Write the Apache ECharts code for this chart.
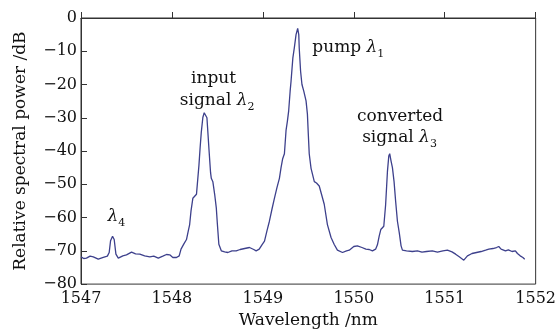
<!DOCTYPE html>
<html>
<head>
<meta charset="utf-8">
<script src="https://cdn.jsdelivr.net/npm/echarts@6/dist/echarts.min.js"></script>
<style>
  html, body { margin: 0; padding: 0; background: #fff; }
  #chart { width: 559px; height: 334px; }
</style>
</head>
<body>
<div id="chart"></div>
<script>
// Wavelength (nm)
const wavelength = [
  1547.00, 1547.03, 1547.06, 1547.10, 1547.135, 1547.19, 1547.245, 1547.29, 1547.31, 1547.325,
  1547.347, 1547.365, 1547.384, 1547.41, 1547.46, 1547.50, 1547.556, 1547.60, 1547.647, 1547.70,
  1547.757, 1547.80, 1547.85, 1547.90, 1547.94, 1547.976, 1548.01, 1548.05, 1548.08, 1548.10,
  1548.13, 1548.16, 1548.18, 1548.195, 1548.21, 1548.23, 1548.27, 1548.297, 1548.31, 1548.323,
  1548.34, 1548.355, 1548.37, 1548.385, 1548.407, 1548.425, 1548.433, 1548.45, 1548.47, 1548.488,
  1548.50, 1548.516, 1548.543, 1548.58, 1548.615, 1548.66, 1548.707, 1548.75, 1548.80, 1548.853,
  1548.90, 1548.926, 1548.96, 1548.99, 1549.018, 1549.045, 1549.072, 1549.10, 1549.127, 1549.155,
  1549.182, 1549.20, 1549.218, 1549.237, 1549.255, 1549.27, 1549.284, 1549.30, 1549.31, 1549.33,
  1549.346, 1549.365, 1549.383, 1549.395, 1549.40, 1549.415, 1549.43, 1549.45, 1549.475, 1549.49,
  1549.50, 1549.51, 1549.53, 1549.566, 1549.59, 1549.62, 1549.645, 1549.675, 1549.71, 1549.75,
  1549.785, 1549.82, 1549.876, 1549.92, 1549.95, 1550.00, 1550.04, 1550.09, 1550.133, 1550.17,
  1550.205, 1550.24, 1550.26, 1550.28, 1550.297, 1550.33, 1550.35, 1550.37, 1550.385, 1550.395,
  1550.41, 1550.425, 1550.443, 1550.46, 1550.48, 1550.50, 1550.52, 1550.535, 1550.58, 1550.644,
  1550.70, 1550.75, 1550.80, 1550.863, 1550.92, 1550.98, 1551.03, 1551.08, 1551.12, 1551.16,
  1551.21, 1551.25, 1551.30, 1551.35, 1551.40, 1551.45, 1551.485, 1551.53, 1551.57, 1551.594,
  1551.62, 1551.668, 1551.70, 1551.74, 1551.777, 1551.80, 1551.83, 1551.86, 1551.88
];
// Relative spectral power (dB)
const power = [
  -71.8, -72.3, -72.2, -71.6, -71.8, -72.5, -72.0, -71.6, -70.5, -67.0,
  -65.6, -66.6, -71.0, -72.2, -71.5, -71.2, -70.4, -70.9, -71.0, -71.5,
  -71.8, -71.6, -72.2, -71.6, -71.1, -71.2, -72.0, -72.0, -71.5, -69.5,
  -68.0, -66.6, -64.0, -62.1, -58.0, -54.2, -53.0, -44.3, -39.0, -34.3,
  -29.9, -28.5, -28.7, -30.0, -39.3, -46.5, -48.2, -49.2, -53.0, -57.1,
  -62.0, -68.0, -70.0, -70.3, -70.5, -70.0, -70.0, -69.6, -69.3, -69.0,
  -69.6, -70.0, -69.5, -68.2, -67.1, -64.0, -61.1, -57.5, -54.2, -51.0,
  -48.2, -45.0, -42.3, -40.8, -33.8, -31.0, -27.9, -22.0, -19.0, -12.0,
  -9.0, -5.0, -3.1, -5.0, -9.0, -16.0, -20.0, -22.0, -24.9, -28.9,
  -35.0, -40.8, -45.2, -49.2, -49.6, -50.5, -53.0, -56.0, -62.1, -66.0,
  -68.1, -69.8, -70.5, -70.0, -69.8, -68.7, -68.5, -69.0, -69.5, -69.6,
  -70.0, -69.5, -68.2, -65.5, -63.6, -62.6, -56.2, -46.2, -41.5, -40.8,
  -43.0, -45.0, -49.2, -55.0, -61.1, -64.5, -68.5, -69.8, -70.0, -70.2,
  -70.0, -70.4, -70.2, -70.0, -70.4, -70.0, -69.8, -70.3, -71.0, -71.8,
  -72.8, -71.5, -70.8, -70.5, -70.2, -69.8, -69.5, -69.3, -69.0, -68.7,
  -69.5, -70.0, -69.7, -70.2, -70.0, -70.8, -71.5, -72.0, -72.5
];
const xTicks = [1547, 1548, 1549, 1550, 1551, 1552];
const yTicks = [-80, -70, -60, -50, -40, -30, -20, -10, 0];

// Annotation texts: [main text, subscript], anchored in data coordinates
const annoText = ['input', 'signal λ|2', 'pump λ|1', 'converted', 'signal λ|3', 'λ|4'];
const annoX = [1548.458, 1548.497, 1549.94, 1550.509, 1550.503, 1547.389];
const annoY = [-18.2, -24.7, -8.9, -29.5, -36.0, -59.6];

const FONT = '"DejaVu Serif", "Liberation Serif", serif';
const chart = echarts.init(document.getElementById('chart'), null, { renderer: 'canvas' });

const option = {
  animation: false,
  backgroundColor: '#ffffff',
  grid: { left: 81, right: 22, top: 18, bottom: 47, show: true, borderColor: '#333', borderWidth: 1, backgroundColor: 'transparent' },
  xAxis: {
    type: 'value', min: xTicks[0], max: xTicks[xTicks.length - 1], interval: 1,
    name: 'Wavelength /nm', nameLocation: 'middle', nameGap: 22,
    nameTextStyle: { fontFamily: FONT, fontSize: 17, color: '#111' },
    axisLine: { show: true, lineStyle: { color: '#333', width: 1 } },
    axisTick: { show: true, inside: true, length: 6, lineStyle: { color: '#333' } },
    axisLabel: { fontFamily: FONT, fontSize: 16, color: '#111', margin: 7,
      formatter: v => String(v) },
    splitLine: { show: false }
  },
  yAxis: {
    type: 'value', min: yTicks[0], max: yTicks[yTicks.length - 1], interval: 10,
    name: 'Relative spectral power /dB', nameLocation: 'middle', nameGap: 52, nameRotate: 90,
    nameTextStyle: { fontFamily: FONT, fontSize: 17, color: '#111' },
    axisLine: { show: true, lineStyle: { color: '#333', width: 1 } },
    axisTick: { show: true, inside: true, length: 6, lineStyle: { color: '#333' } },
    axisLabel: { fontFamily: FONT, fontSize: 16, color: '#111', margin: 4,
      formatter: v => String(v).replace('-', '\u2212') },
    splitLine: { show: false }
  },
  series: [{
    type: 'line',
    data: wavelength.map((w, i) => [w, power[i]]),
    showSymbol: false,
    lineStyle: { color: '#3d408c', width: 1.3 },
    z: 3
  }]
};
chart.setOption(option);

const graphics = annoText.map((t, i) => {
  const p = chart.convertToPixel({ gridIndex: 0 }, [annoX[i], annoY[i]]);
  const parts = t.split('|');
  let rt;
  if (parts.length === 1) {
    rt = '{m|' + parts[0] + '}';
  } else {
    const main = parts[0];
    const lam = main.slice(-1);
    const pre = main.slice(0, -1);
    rt = (pre ? '{m|' + pre + '}' : '') + '{l|' + lam + '}{s|' + parts[1] + '}';
  }
  return {
    type: 'text', x: p[0], y: p[1], z: 10,
    style: {
      text: rt, align: 'center', verticalAlign: 'middle',
      rich: {
        m: { fontFamily: FONT, fontSize: 17, lineHeight: 24, fill: '#111', verticalAlign: 'middle' },
        l: { fontFamily: FONT, fontSize: 17, fontStyle: 'italic', lineHeight: 24, fill: '#111', verticalAlign: 'middle' },
        s: { fontFamily: FONT, fontSize: 11, lineHeight: 10, fill: '#111', verticalAlign: 'bottom' }
      }
    }
  };
});
chart.setOption({ graphic: graphics });
</script>
</body>
</html>
